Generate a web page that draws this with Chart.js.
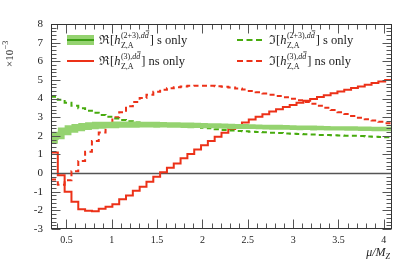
<!DOCTYPE html>
<html>
<head>
<meta charset="utf-8">
<script src="https://cdn.jsdelivr.net/npm/chart.js@4.4.1/dist/chart.umd.min.js"></script>
<style>
html,body{margin:0;padding:0;background:#fff;}
canvas{display:block;}
</style>
</head>
<body>
<canvas id="c" width="405" height="263"></canvas>
<script>
// ---- data (per-bin values, units of 1e-3) ----
const binLow = 0.33;
const binHigh = 4.09;
const nBins = 50;

const reS = [1.85, 2.13, 2.30, 2.40, 2.47, 2.52, 2.55, 2.57, 2.58, 2.59,
             2.60, 2.60, 2.60, 2.60, 2.60, 2.59, 2.59, 2.58, 2.58, 2.57,
             2.56, 2.56, 2.55, 2.54, 2.53, 2.52, 2.51, 2.50, 2.50, 2.49,
             2.48, 2.47, 2.46, 2.46, 2.45, 2.44, 2.43, 2.43, 2.42, 2.42,
             2.41, 2.40, 2.40, 2.39, 2.39, 2.38, 2.38, 2.37, 2.37, 2.36];
const reSUp = [2.22, 2.45, 2.57, 2.64, 2.69, 2.73, 2.75, 2.76, 2.76, 2.77,
               2.77, 2.77, 2.77, 2.76, 2.76, 2.75, 2.74, 2.73, 2.73, 2.72,
               2.71, 2.70, 2.69, 2.68, 2.67, 2.66, 2.65, 2.64, 2.63, 2.62,
               2.61, 2.60, 2.59, 2.59, 2.58, 2.57, 2.56, 2.55, 2.55, 2.54,
               2.53, 2.52, 2.52, 2.51, 2.51, 2.50, 2.50, 2.49, 2.49, 2.48];
const reSLo = [1.58, 1.81, 2.03, 2.16, 2.25, 2.31, 2.35, 2.38, 2.40, 2.41,
               2.43, 2.43, 2.43, 2.44, 2.44, 2.43, 2.44, 2.43, 2.43, 2.42,
               2.41, 2.42, 2.41, 2.40, 2.39, 2.38, 2.37, 2.36, 2.37, 2.36,
               2.35, 2.34, 2.33, 2.33, 2.32, 2.31, 2.30, 2.31, 2.29, 2.30,
               2.29, 2.28, 2.28, 2.27, 2.27, 2.26, 2.26, 2.25, 2.25, 2.24];
const imS = [4.10, 3.93, 3.78, 3.62, 3.48, 3.35, 3.24, 3.12, 3.02, 2.93,
             2.85, 2.78, 2.72, 2.67, 2.64, 2.61, 2.58, 2.56, 2.54, 2.52,
             2.50, 2.47, 2.43, 2.40, 2.35, 2.31, 2.28, 2.26, 2.24, 2.22,
             2.20, 2.19, 2.17, 2.15, 2.13, 2.11, 2.10, 2.08, 2.07, 2.05,
             2.04, 2.03, 2.02, 2.01, 2.00, 1.99, 1.97, 1.95, 1.93, 1.92];
const reNs = [1.10, -0.12, -1.00, -1.54, -1.94, -2.02, -2.05, -1.92, -1.81, -1.67,
              -1.41, -1.20, -0.95, -0.73, -0.47, -0.20, 0.05, 0.29, 0.52, 0.79,
              1.02, 1.27, 1.50, 1.72, 1.95, 2.17, 2.36, 2.54, 2.71, 2.87,
              3.02, 3.16, 3.30, 3.42, 3.54, 3.66, 3.77, 3.88, 3.98, 4.08,
              4.18, 4.28, 4.38, 4.47, 4.56, 4.65, 4.74, 4.83, 4.91, 5.00];
const imNs = [-0.35, -0.62, -0.38, 0.10, 0.65, 1.15, 1.72, 2.18, 2.65, 3.00,
              3.27, 3.58, 3.82, 4.03, 4.21, 4.36, 4.47, 4.55, 4.61, 4.65,
              4.68, 4.69, 4.69, 4.68, 4.66, 4.63, 4.59, 4.54, 4.48, 4.41,
              4.34, 4.27, 4.21, 4.14, 4.07, 3.99, 3.91, 3.82, 3.72, 3.61,
              3.50, 3.38, 3.27, 3.17, 3.07, 2.97, 2.89, 2.82, 2.75, 2.68];

const xTickValues = [0.5, 1, 1.5, 2, 2.5, 3, 3.5, 4];
const xTickLabels = ['0.5', '1', '1.5', '2', '2.5', '3', '3.5', '4'];
const yTickValues = [-3, -2, -1, 0, 1, 2, 3, 4, 5, 6, 7, 8];
const yTickLabels = ['-3', '-2', '-1', '0', '1', '2', '3', '4', '5', '6', '7', '8'];

const legendSym = ['ℜ', 'ℜ', 'ℑ', 'ℑ'];
const legendSupHead = ['(2+3),', '(3),', '(2+3),', '(3),'];
const legendSupTail = ['dd', 'dd', 'dd', 'dd'];   // second d carries a bar (d d̄)
const legendSub = ['Z,A', 'Z,A', 'Z,A', 'Z,A'];
const legendTail = ['] s only', '] ns only', '] s only', '] ns only'];

// ---- build step data ----
const binW = (binHigh - binLow) / nBins;
function stepData(vals) {
  const pts = vals.map((v, i) => ({ x: binLow + i * binW, y: v }));
  pts.push({ x: binHigh, y: vals[vals.length - 1] });
  return pts;
}

const RED = '#ec3118';
const GREEN_D = '#3d9f16';
const GREEN_DASH = '#47ab0e';
const GREEN_BAND = '#95d370';
const SERIF = '"Liberation Serif", "DejaVu Serif", serif';

const decor = {
  id: 'decor',
  beforeDatasetsDraw(chart) {
    const { ctx, chartArea: a, scales: { y } } = chart;
    ctx.save();
    const y0 = Math.round(y.getPixelForValue(0)) + 0.5;
    ctx.strokeStyle = '#555';
    ctx.lineWidth = 1.5;
    ctx.beginPath();
    ctx.moveTo(a.left, y0); ctx.lineTo(a.right, y0);
    ctx.stroke();
    ctx.restore();
  },
  afterDatasetsDraw(chart) {
    const { ctx, chartArea: a, scales: { x, y } } = chart;
    ctx.save();
    ctx.strokeStyle = '#555';
    ctx.lineWidth = 1;
    const L = Math.round(a.left) + 0.5, R = Math.round(a.right) - 0.5;
    const T = Math.round(a.top) + 0.5, B = Math.round(a.bottom) - 0.5;
    ctx.beginPath();
    for (let k = Math.ceil(x.min * 10); k <= Math.floor(x.max * 10); k++) {
      const px = Math.round(x.getPixelForValue(k / 10)) + 0.5;
      const len = (k % 5 === 0) ? 9 : 5;
      ctx.moveTo(px, B); ctx.lineTo(px, B - len);
      ctx.moveTo(px, T); ctx.lineTo(px, T + len);
    }
    for (let k = Math.ceil(y.min * 5); k <= Math.floor(y.max * 5); k++) {
      const py = Math.round(y.getPixelForValue(k / 5)) + 0.5;
      const len = (k % 5 === 0) ? 9 : 5;
      ctx.moveTo(L, py); ctx.lineTo(L + len, py);
      ctx.moveTo(R, py); ctx.lineTo(R - len, py);
    }
    ctx.stroke();
    ctx.strokeStyle = '#333';
    ctx.strokeRect(L, T, R - L, B - T);
    ctx.restore();
  },
  afterDraw(chart) {
    const { ctx, chartArea: a } = chart;
    ctx.save();
    ctx.fillStyle = '#222';
    ctx.textBaseline = 'alphabetic';
    ctx.textAlign = 'left';

    const cols = [a.left + 16, a.left + 186];
    const swW = 27;
    const rows = [a.top + 16, a.top + 37];
    const styles = ['band', 'red', 'gdash', 'rdash'];
    const MAIN = '12.5px ' + SERIF;
    const MAINI = 'italic 12.5px ' + SERIF;
    const SM = '8px ' + SERIF;
    const SMI = 'italic 8px ' + SERIF;
    for (let i = 0; i < 4; i++) {
      const cx = cols[i < 2 ? 0 : 1];
      const cy = rows[i % 2];
      const st = styles[i];
      ctx.save();
      if (st === 'band') {
        ctx.fillStyle = GREEN_BAND;
        ctx.fillRect(cx, cy - 5, swW, 10);
        ctx.strokeStyle = GREEN_D;
        ctx.lineWidth = 2;
        ctx.beginPath(); ctx.moveTo(cx, cy); ctx.lineTo(cx + swW, cy); ctx.stroke();
      } else {
        ctx.strokeStyle = (st === 'gdash') ? GREEN_DASH : RED;
        ctx.lineWidth = 2;
        if (st !== 'red') ctx.setLineDash([6, 3.5]);
        ctx.beginPath(); ctx.moveTo(cx, cy); ctx.lineTo(cx + swW, cy); ctx.stroke();
      }
      ctx.restore();
      let tx = cx + swW + 5;
      const base = cy + 4;
      ctx.font = MAIN;
      ctx.fillText(legendSym[i] + '[', tx, base);
      tx += ctx.measureText(legendSym[i] + '[').width;
      ctx.font = MAINI;
      ctx.fillText('h', tx, base);
      tx += ctx.measureText('h').width + 0.5;
      // superscript
      ctx.font = SM;
      const wh = ctx.measureText(legendSupHead[i]).width;
      ctx.fillText(legendSupHead[i], tx, base - 6);
      ctx.font = SMI;
      const wt = ctx.measureText(legendSupTail[i]).width;
      const wd = ctx.measureText('d').width;
      ctx.fillText(legendSupTail[i], tx + wh, base - 6);
      ctx.fillRect(tx + wh + wt - wd + 1, base - 6 - 7.5, wd - 0.5, 0.8);
      const ws = wh + wt;
      ctx.font = SM;
      const wb = ctx.measureText(legendSub[i]).width;
      ctx.fillText(legendSub[i], tx, base + 4);
      tx += Math.max(ws, wb) + 1;
      ctx.font = MAIN;
      ctx.fillText(legendTail[i], tx, base);
    }

    ctx.save();
    ctx.translate(13, 67);
    ctx.rotate(-Math.PI / 2);
    ctx.font = '11px ' + SERIF;
    ctx.fillText('×10', 0, 0);
    const w10 = ctx.measureText('×10').width;
    ctx.font = '8px ' + SERIF;
    ctx.fillText('−3', w10 + 0.5, -5);
    ctx.restore();

    ctx.font = 'italic 12px ' + SERIF;
    const t1 = 'μ/M';
    const wt1 = ctx.measureText(t1).width;
    ctx.font = 'italic 8px ' + SERIF;
    const wz = ctx.measureText('Z').width;
    const endX = a.right - 2;
    ctx.font = 'italic 12px ' + SERIF;
    ctx.fillText(t1, endX - wz - wt1, 256);
    ctx.font = 'italic 8px ' + SERIF;
    ctx.fillText('Z', endX - wz, 259);
    ctx.restore();
  }
};

new Chart(document.getElementById('c'), {
  type: 'line',
  data: {
    datasets: [
      { label: 'band low', data: stepData(reSLo), stepped: true, borderWidth: 0, borderColor: 'rgba(0,0,0,0)', pointRadius: 0, fill: false },
      { label: 'band up', data: stepData(reSUp), stepped: true, borderWidth: 0, borderColor: 'rgba(0,0,0,0)', backgroundColor: GREEN_BAND, pointRadius: 0, fill: '-1' },
      { label: 'Re s only', data: stepData(reS), stepped: true, borderWidth: 2, borderColor: GREEN_D, pointRadius: 0, fill: false },
      { label: 'Im s only', data: stepData(imS), stepped: true, borderWidth: 2, borderColor: GREEN_DASH, borderDash: [5, 3.5], pointRadius: 0, fill: false },
      { label: 'Im ns only', data: stepData(imNs), stepped: true, borderWidth: 2, borderColor: RED, borderDash: [5, 3.5], pointRadius: 0, fill: false },
      { label: 'Re ns only', data: stepData(reNs), stepped: true, borderWidth: 2, borderColor: RED, pointRadius: 0, fill: false }
    ]
  },
  options: {
    responsive: false,
    animation: false,
    layout: { padding: { top: 24, right: 13, left: 0, bottom: 0 } },
    plugins: { legend: { display: false }, tooltip: { enabled: false } },
    scales: {
      x: {
        type: 'linear', min: binLow, max: binHigh,
        grid: { display: false, drawTicks: false },
        border: { display: false },
        afterBuildTicks: s => { s.ticks = xTickValues.map(v => ({ value: v })); },
        afterFit: s => { s.height = 34; },
        ticks: {
          padding: 5, color: '#222', maxRotation: 0, autoSkip: false,
          font: { family: SERIF, size: 10 },
          callback: (v, i) => xTickLabels[i]
        }
      },
      y: {
        type: 'linear', min: -3, max: 8,
        grid: { display: false, drawTicks: false },
        border: { display: false },
        afterBuildTicks: s => { s.ticks = yTickValues.map(v => ({ value: v })); },
        afterFit: s => { s.width = 51; },
        ticks: {
          padding: 8, color: '#222', autoSkip: false,
          font: { family: SERIF, size: 11 },
          callback: (v, i) => yTickLabels[i]
        }
      }
    }
  },
  plugins: [decor]
});
</script>
</body>
</html>
